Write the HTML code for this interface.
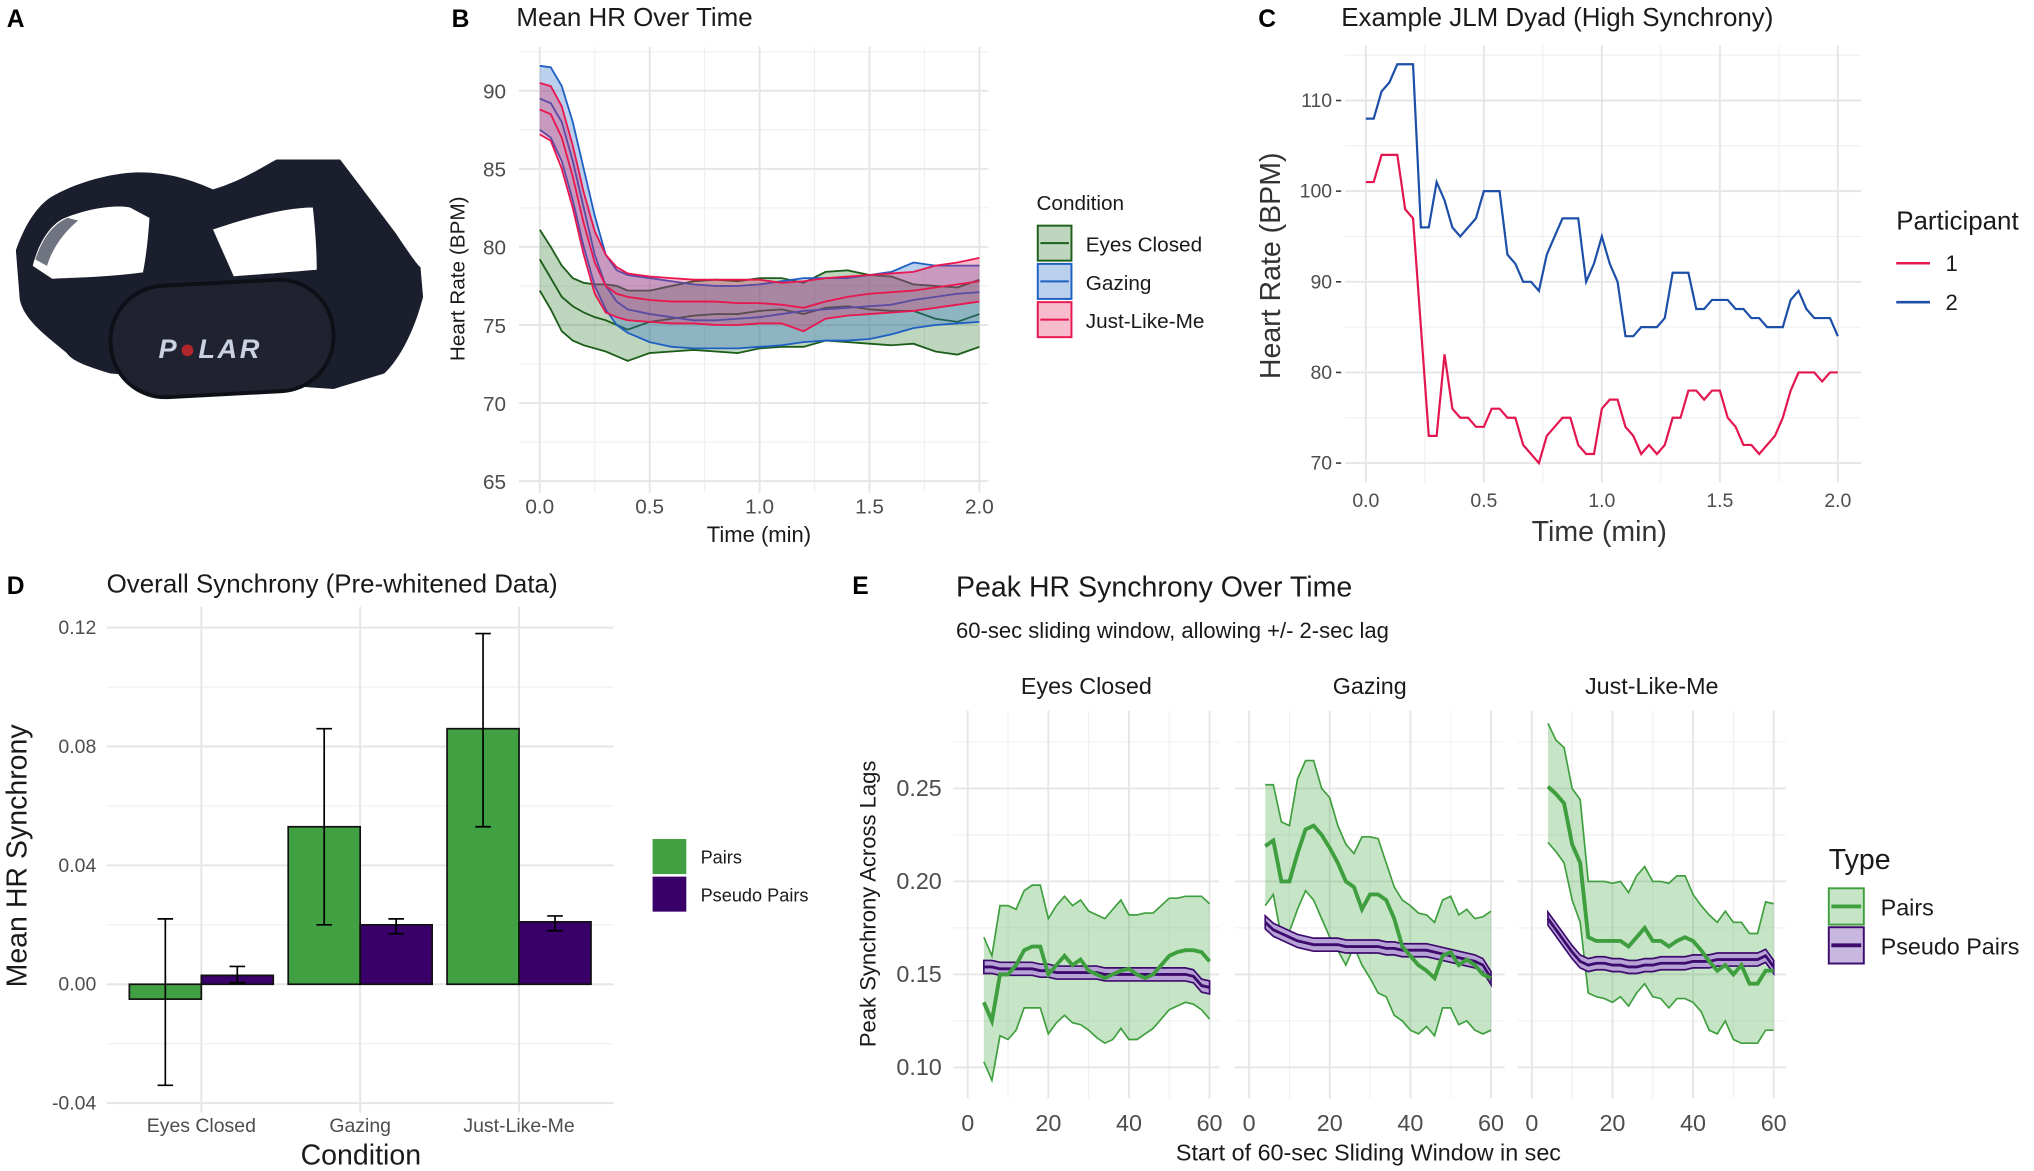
<!DOCTYPE html>
<html><head><meta charset="utf-8">
<style>
html,body{margin:0;padding:0;background:#fff;}
svg{display:block;font-family:"Liberation Sans",Arial,sans-serif;}
</style></head>
<body>
<svg id="fig" width="2034" height="1171" viewBox="0 0 1568 903" xmlns="http://www.w3.org/2000/svg">
  <g>
    <text x="5" y="21" font-size="19" font-weight="bold" fill="#000">A</text>
    <path d="M12,193 C20,170 30,158 39,152 C60,140 85,134 103,133 C130,132 150,140 164,146 C185,140 200,130 213,123 L262,123 C275,140 290,160 305,180 C315,195 322,205 324,206 L326,229 C318,260 305,280 296,288 L257,300 L85,288 C65,282 55,278 51,272 C30,255 18,245 15,231 Z" fill="#1b1e2c"/>
    <path d="M25,205 C30,185 40,172 50,168 C70,160 90,158 100,160 L115,168 C114,185 112,200 110,210 C80,214 55,214 40,215 Z" fill="#fff"/>
    <path d="M27,200 C33,182 42,172 52,168 L60,170 C48,180 40,192 36,205 Z" fill="#6f7480"/>
    <path d="M164,177 C190,168 220,160 241,160 C243,178 244,195 244,208 C220,210 195,212 180,213 Z" fill="#fff"/>
    <rect x="85" y="218" width="172" height="86" rx="42" fill="#20232f" stroke="#0e1018" stroke-width="3" transform="rotate(-3 171 261)"/>
    <text x="122" y="276" font-size="21" font-weight="bold" font-style="italic" fill="#c9d1e3" letter-spacing="2">P<tspan fill="#b1252c">●</tspan>LAR</text>
  </g>
  <g id="chart"></g>
</svg>
<script>
// ---------- Panel B data ----------
const bTime = [0,0.05,0.1,0.15,0.2,0.25,0.3,0.35,0.4,0.5,0.6,0.7,0.8,0.9,1.0,1.1,1.2,1.3,1.4,1.5,1.6,1.7,1.8,1.9,2.0];
const bGazUpper = [91.6,91.5,90.3,88,85,82,79.5,78.5,78.2,78,77.8,77.6,77.5,77.5,77.6,77.8,78,78,78,78.2,78.4,79,78.8,78.8,78.8];
const bGazMean = [89.5,89.2,88,85.5,82.5,79.5,77.5,76.5,76,75.7,75.5,75.3,75.3,75.4,75.5,75.7,75.9,76,76.1,76.2,76.3,76.6,76.8,77,77.1];
const bGazLower = [87.5,87,85.5,83,80,77.5,76,75,74.5,73.9,73.6,73.5,73.5,73.5,73.6,73.7,73.9,74,74,74.1,74.4,74.8,75,75.1,75.2];
const bJlmUpper = [90.5,90.3,89,86.5,83.5,81,79.5,78.7,78.3,78.1,78,77.9,77.9,77.9,77.9,77.7,77.8,78,78.1,78.2,78.3,78.4,78.8,79,79.3];
const bJlmMean = [88.8,88.5,87,84.5,81.5,79,77.5,77,76.8,76.6,76.5,76.5,76.5,76.4,76.4,76.3,76.1,76.5,76.8,77,77.1,77.2,77.4,77.6,77.8];
const bJlmLower = [87.2,86.8,85,82.5,79.5,77,75.8,75.5,75.3,75.2,75.1,75.1,75,75,75.1,75.1,74.6,75.4,75.6,75.7,75.8,75.9,76.1,76.3,76.5];
const bEcUpper = [81.1,80,78.8,78,77.7,77.6,77.6,77.5,77.2,77.2,77.5,77.8,77.9,77.8,78,78,77.7,78.4,78.5,78.2,78.1,77.6,77.5,77.4,77.9];
const bEcMean = [79.2,78,76.8,76.2,75.8,75.5,75.3,75,74.7,75.2,75.4,75.6,75.7,75.7,75.9,76,75.7,76.1,76.2,76,75.9,75.9,75.4,75.2,75.7];
const bEcLower = [77.2,76,74.6,74,73.7,73.5,73.3,73,72.7,73.2,73.3,73.4,73.3,73.2,73.5,73.6,73.6,74,73.9,73.8,73.7,73.8,73.3,73.1,73.6];
const bYTicks = [65,70,75,80,85,90];
const bXTicks = [0,0.5,1.0,1.5,2.0];
const bConditions = ["Eyes Closed","Gazing","Just-Like-Me"];

// ---------- Panel C data (one point every 2 s) ----------
const cP1 = [101,101,104,104,104,98,97,85,73,73,82,76,75,75,74,74,76,76,75,75,72,71,70,73,74,75,75,72,71,71,76,77,77,74,73,71,72,71,72,75,75,78,78,77,78,78,75,74,72,72,71,72,73,75,78,80,80,80,79,80,80];
const cP2 = [108,108,111,112,114,114,114,96,96,101,99,96,95,96,97,100,100,100,93,92,90,90,89,93,95,97,97,97,90,92,95,92,90,84,84,85,85,85,86,91,91,91,87,87,88,88,88,87,87,86,86,85,85,85,88,89,87,86,86,86,84];
const cYTicks = [70,80,90,100,110];
const cXTicks = [0,0.5,1.0,1.5,2.0];

// ---------- Panel D data ----------
const dCategories = ["Eyes Closed","Gazing","Just-Like-Me"];
const dPairs = [-0.005,0.053,0.086];
const dPairsLo = [-0.034,0.020,0.053];
const dPairsHi = [0.022,0.086,0.118];
const dPseudo = [0.003,0.020,0.021];
const dPseudoLo = [0.0005,0.017,0.018];
const dPseudoHi = [0.006,0.022,0.023];
const dYTicks = [-0.04,0.00,0.04,0.08,0.12];
const dYLabels = ["-0.04","0.00","0.04","0.08","0.12"];

// ---------- Panel E data ----------
const eX = [4,6,8,10,12,14,16,18,20,22,24,26,28,30,32,34,36,38,40,42,44,46,48,50,52,54,56,58,60];
const eFacets = ["Eyes Closed","Gazing","Just-Like-Me"];
const eEcMean = [0.135,0.125,0.15,0.15,0.155,0.163,0.165,0.165,0.15,0.155,0.16,0.155,0.158,0.152,0.15,0.148,0.15,0.152,0.153,0.15,0.148,0.15,0.155,0.16,0.162,0.163,0.163,0.162,0.157];
const eEcUpper = [0.17,0.16,0.187,0.187,0.185,0.195,0.198,0.198,0.18,0.187,0.192,0.187,0.19,0.184,0.182,0.18,0.185,0.19,0.182,0.182,0.183,0.183,0.187,0.191,0.191,0.192,0.192,0.192,0.188];
const eEcLower = [0.103,0.093,0.117,0.115,0.12,0.132,0.132,0.132,0.118,0.124,0.128,0.124,0.123,0.12,0.116,0.113,0.115,0.121,0.115,0.115,0.118,0.121,0.126,0.131,0.133,0.135,0.134,0.131,0.126];
const eEcPseudo = [0.154,0.154,0.153,0.153,0.153,0.153,0.153,0.152,0.152,0.151,0.151,0.151,0.151,0.151,0.151,0.150,0.150,0.150,0.150,0.150,0.150,0.150,0.150,0.150,0.150,0.150,0.149,0.144,0.143];
const eGazMean = [0.219,0.222,0.2,0.2,0.215,0.228,0.23,0.225,0.218,0.21,0.2,0.197,0.185,0.193,0.193,0.19,0.18,0.165,0.16,0.155,0.152,0.148,0.16,0.162,0.155,0.158,0.155,0.15,0.148];
const eGazUpper = [0.252,0.252,0.232,0.23,0.255,0.265,0.265,0.25,0.245,0.23,0.22,0.215,0.224,0.224,0.223,0.21,0.197,0.19,0.187,0.183,0.182,0.178,0.19,0.192,0.182,0.185,0.18,0.181,0.184];
const eGazLower = [0.187,0.193,0.17,0.173,0.185,0.195,0.19,0.18,0.17,0.163,0.155,0.165,0.155,0.148,0.14,0.138,0.128,0.125,0.12,0.118,0.122,0.117,0.132,0.132,0.123,0.125,0.12,0.118,0.12];
const eGazPseudo = [0.178,0.174,0.172,0.170,0.168,0.167,0.166,0.166,0.166,0.166,0.165,0.165,0.165,0.165,0.165,0.164,0.164,0.163,0.163,0.163,0.163,0.162,0.161,0.160,0.159,0.158,0.157,0.155,0.148];
const eJlmMean = [0.251,0.247,0.242,0.22,0.21,0.17,0.168,0.168,0.168,0.168,0.165,0.17,0.175,0.168,0.168,0.165,0.168,0.17,0.168,0.163,0.157,0.152,0.155,0.15,0.155,0.145,0.145,0.152,0.152];
const eJlmUpper = [0.285,0.276,0.272,0.25,0.244,0.2,0.2,0.2,0.199,0.2,0.194,0.203,0.208,0.2,0.2,0.199,0.203,0.203,0.193,0.187,0.182,0.178,0.184,0.178,0.178,0.172,0.172,0.189,0.188];
const eJlmLower = [0.221,0.216,0.21,0.19,0.178,0.14,0.138,0.137,0.135,0.138,0.133,0.14,0.145,0.138,0.137,0.132,0.137,0.137,0.135,0.13,0.12,0.118,0.125,0.115,0.113,0.113,0.113,0.12,0.12];
const eJlmPseudo = [0.180,0.174,0.168,0.162,0.157,0.155,0.156,0.156,0.155,0.155,0.154,0.154,0.155,0.155,0.156,0.156,0.156,0.156,0.157,0.157,0.157,0.158,0.158,0.158,0.158,0.158,0.158,0.160,0.154];
const eYTicks = [0.10,0.15,0.20,0.25];
const eXTicks = [0,20,40,60];

const NS = 'http://www.w3.org/2000/svg';
const root = document.getElementById('chart');
function mk(tag, attrs, parent) {
  const e = document.createElementNS(NS, tag);
  for (const k in attrs) e.setAttribute(k, attrs[k]);
  (parent || root).appendChild(e);
  return e;
}
function txt(x, y, s, size, extra, parent) {
  const a = Object.assign({x: x, y: y, 'font-size': size, fill: '#1a1a1a'}, extra || {});
  const e = mk('text', a, parent);
  e.textContent = s;
  return e;
}
function linePath(xs, ys, fx, fy) {
  return xs.map((x, i) => (i ? 'L' : 'M') + fx(x).toFixed(2) + ',' + fy(ys[i]).toFixed(2)).join('');
}
function bandPath(xs, lo, hi, fx, fy) {
  let d = xs.map((x, i) => (i ? 'L' : 'M') + fx(x).toFixed(2) + ',' + fy(hi[i]).toFixed(2)).join('');
  for (let i = xs.length - 1; i >= 0; i--) d += 'L' + fx(xs[i]).toFixed(2) + ',' + fy(lo[i]).toFixed(2);
  return d + 'Z';
}
const GMAJ = '#e6e6e6', GMIN = '#efefef', TICKC = '#4d4d4d';

// ================= Panel B =================
const gB = mk('g', {});


const bx = t => 416 + t * (755 - 416) / 2;
const by = v => 70 + (90 - v) * 60.2 / 5;
for (let v = 67.5; v <= 92.5; v += 5) mk('line', {x1: 400, x2: 762, y1: by(v), y2: by(v), stroke: GMIN, 'stroke-width': 0.8}, gB);
for (let t = 0.25; t < 2; t += 0.5) mk('line', {x1: bx(t), x2: bx(t), y1: 36, y2: 380, stroke: GMIN, 'stroke-width': 0.8}, gB);
bYTicks.forEach(v => {
  mk('line', {x1: 400, x2: 762, y1: by(v), y2: by(v), stroke: GMAJ, 'stroke-width': 1.5}, gB);
  const t = txt(390, by(v) + 6, String(v), 16, {'text-anchor': 'end', fill: TICKC}, gB);
  
  
});
bXTicks.forEach(v => {
  mk('line', {x1: bx(v), x2: bx(v), y1: 36, y2: 380, stroke: GMAJ, 'stroke-width': 1.5}, gB);
  const t = txt(bx(v), 396, v.toFixed(1), 16, {'text-anchor': 'middle', fill: TICKC}, gB);
  
  
});
const bSeries = [
  {lo: bEcLower, mean: bEcMean, hi: bEcUpper, col: '#1d5e1a', fill: 'rgba(40,120,40,0.3)', name: 'eyes-closed'},
  {lo: bGazLower, mean: bGazMean, hi: bGazUpper, col: '#1f5fc4', fill: 'rgba(40,110,200,0.32)', name: 'gazing'},
  {lo: bJlmLower, mean: bJlmMean, hi: bJlmUpper, col: '#e8174f', fill: 'rgba(232,30,90,0.3)', name: 'just-like-me'}
];
bSeries.forEach(s => {
  const band = mk('path', {d: bandPath(bTime, s.lo, s.hi, bx, by), fill: s.fill, stroke: 'none'}, gB);
  
  
  [s.lo, s.mean, s.hi].forEach(arr => {
    const l = mk('path', {d: linePath(bTime, arr, bx, by), fill: 'none', stroke: s.col, 'stroke-width': 1.4}, gB);
    
    
  });
});
let e;
e = txt(348, 21, 'B', 19, {'font-weight': 'bold', fill: '#000'}, gB);


e = txt(398, 20, 'Mean HR Over Time', 20, {}, gB);


e = txt(585, 418, 'Time (min)', 17, {'text-anchor': 'middle'}, gB);


e = txt(0, 0, 'Heart Rate (BPM)', 16, {'text-anchor': 'middle', transform: 'translate(358,215) rotate(-90)'}, gB);


e = txt(799, 162, 'Condition', 16, {}, gB);


bSeries.forEach((s, i) => {
  const y0 = 174 + i * 29.5;
  const g = mk('g', {}, gB);
  
  
  mk('rect', {x: 800, y: y0, width: 26, height: 27, fill: s.fill, stroke: s.col, 'stroke-width': 1.5}, g);
  mk('line', {x1: 802, x2: 824, y1: y0 + 13.5, y2: y0 + 13.5, stroke: s.col, 'stroke-width': 1.5}, g);
  txt(837, y0 + 20, bConditions[i], 16, {}, g);
});

// ================= Panel C =================
const gC = mk('g', {});


const cx = t => 1053 + t * (1417 - 1053) / 2;
const cy = v => 77.5 + (110 - v) * 6.99;
for (let v = 75; v <= 115; v += 10) mk('line', {x1: 1037, x2: 1435, y1: cy(v), y2: cy(v), stroke: GMIN, 'stroke-width': 0.8}, gC);
for (let t = 0.25; t < 2; t += 0.5) mk('line', {x1: cx(t), x2: cx(t), y1: 35, y2: 372, stroke: GMIN, 'stroke-width': 0.8}, gC);
cYTicks.forEach(v => {
  mk('line', {x1: 1037, x2: 1435, y1: cy(v), y2: cy(v), stroke: GMAJ, 'stroke-width': 1.5}, gC);
  mk('line', {x1: 1030, x2: 1034, y1: cy(v), y2: cy(v), stroke: '#333', 'stroke-width': 1.2}, gC);
  const t = txt(1027, cy(v) + 5, String(v), 15, {'text-anchor': 'end', fill: TICKC}, gC);
  
  
});
cXTicks.forEach(v => {
  mk('line', {x1: cx(v), x2: cx(v), y1: 35, y2: 372, stroke: GMAJ, 'stroke-width': 1.5}, gC);
  const t = txt(cx(v), 391, v.toFixed(1), 15, {'text-anchor': 'middle', fill: TICKC}, gC);
  
  
});
const cT = cP1.map((v, i) => i / 30);
e = mk('path', {d: linePath(cT, cP2, cx, cy), fill: 'none', stroke: '#1d4fa8', 'stroke-width': 1.7}, gC);


e = mk('path', {d: linePath(cT, cP1, cx, cy), fill: 'none', stroke: '#e3174f', 'stroke-width': 1.7}, gC);


e = txt(970, 21, 'C', 19, {'font-weight': 'bold', fill: '#000'}, gC);


e = txt(1034, 20, 'Example JLM Dyad (High Synchrony)', 20, {}, gC);


e = txt(1233, 417, 'Time (min)', 22, {'text-anchor': 'middle', fill: '#333'}, gC);


e = txt(0, 0, 'Heart Rate (BPM)', 22, {'text-anchor': 'middle', fill: '#333', transform: 'translate(987,205) rotate(-90)'}, gC);


e = txt(1462, 177, 'Participant', 20, {}, gC);


[['1', '#e3174f'], ['2', '#1d4fa8']].forEach((p, i) => {
  const y0 = 203 + i * 30;
  const g = mk('g', {}, gC);
  
  
  mk('line', {x1: 1462, x2: 1488, y1: y0, y2: y0, stroke: p[1], 'stroke-width': 2}, g);
  txt(1500, y0 + 6, p[0], 17, {}, g);
});

// ================= Panel D =================
const gD = mk('g', {});


const dy = v => 759 - v * 2291.7;
const dcx = i => 155 + i * 122.5;
const BW = 55.5;
for (let v = -0.02; v <= 0.11; v += 0.04) mk('line', {x1: 82, x2: 473, y1: dy(v), y2: dy(v), stroke: GMIN, 'stroke-width': 0.8}, gD);
dYTicks.forEach((v, i) => {
  mk('line', {x1: 82, x2: 473, y1: dy(v), y2: dy(v), stroke: GMAJ, 'stroke-width': 1.5}, gD);
  const t = txt(74, dy(v) + 5, dYLabels[i], 15, {'text-anchor': 'end', fill: TICKC}, gD);
  
  
});
dCategories.forEach((c, i) => {
  mk('line', {x1: dcx(i), x2: dcx(i), y1: 468, y2: 858, stroke: GMAJ, 'stroke-width': 1.5}, gD);
  const t = txt(dcx(i), 873, c, 15, {'text-anchor': 'middle', fill: TICKC}, gD);
  
  
});
function dBar(i, val, lo, hi, off, col, nm) {
  const x = dcx(i) + off;
  const r = mk('rect', {x: x, y: Math.min(dy(val), dy(0)), width: BW, height: Math.abs(dy(val) - dy(0)), fill: col, stroke: '#111', 'stroke-width': 1.3}, gD);
  
  
  const c = x + BW / 2;
  const eb = mk('path', {d: 'M' + (c - 6) + ',' + dy(hi) + 'H' + (c + 6) + 'M' + c + ',' + dy(hi) + 'V' + dy(lo) + 'M' + (c - 6) + ',' + dy(lo) + 'H' + (c + 6), stroke: '#000', 'stroke-width': 1.3, fill: 'none'}, gD);
  
  
}
dCategories.forEach((c, i) => {
  dBar(i, dPairs[i], dPairsLo[i], dPairsHi[i], -BW, '#41a041', 'pairs');
  dBar(i, dPseudo[i], dPseudoLo[i], dPseudoHi[i], 0, '#380068', 'pseudo-pairs');
});
e = txt(5, 458, 'D', 19, {'font-weight': 'bold', fill: '#000'}, gD);


e = txt(82, 457, 'Overall Synchrony (Pre-whitened Data)', 20, {}, gD);


e = txt(278, 898, 'Condition', 22, {'text-anchor': 'middle'}, gD);


e = txt(0, 0, 'Mean HR Synchrony', 22, {'text-anchor': 'middle', transform: 'translate(20,660) rotate(-90)'}, gD);


[['Pairs', '#41a041'], ['Pseudo Pairs', '#380068']].forEach((p, i) => {
  const y0 = 647 + i * 29;
  const g = mk('g', {}, gD);
  
  
  mk('rect', {x: 503, y: y0, width: 26, height: 27, fill: p[1]}, g);
  txt(540, y0 + 19, p[0], 14, {}, g);
});

// ================= Panel E =================
const gE = mk('g', {});


const ey = v => 608 + (0.25 - v) * 1434;
const eX0 = [746, 963, 1181];
const eXR = [[735, 940], [952, 1160], [1170, 1377]];
const eData = [
  [eEcLower, eEcMean, eEcUpper, eEcPseudo],
  [eGazLower, eGazMean, eGazUpper, eGazPseudo],
  [eJlmLower, eJlmMean, eJlmUpper, eJlmPseudo]
];
eFacets.forEach((f, k) => {
  const fx = x => eX0[k] + x * 186.5 / 60;
  const g = mk('g', {}, gE);
  
  
  for (let v = 0.125; v < 0.28; v += 0.05) mk('line', {x1: eXR[k][0], x2: eXR[k][1], y1: ey(v), y2: ey(v), stroke: GMIN, 'stroke-width': 0.8}, g);
  [10, 30, 50].forEach(x => mk('line', {x1: fx(x), x2: fx(x), y1: 548, y2: 847, stroke: GMIN, 'stroke-width': 0.8}, g));
  eYTicks.forEach(v => mk('line', {x1: eXR[k][0], x2: eXR[k][1], y1: ey(v), y2: ey(v), stroke: GMAJ, 'stroke-width': 1.5}, g));
  eXTicks.forEach(x => {
    mk('line', {x1: fx(x), x2: fx(x), y1: 548, y2: 847, stroke: GMAJ, 'stroke-width': 1.5}, g);
    const t = txt(fx(x), 872, String(x), 18, {'text-anchor': 'middle', fill: TICKC}, g);
    
    
  });
  const st = txt((eXR[k][0] + eXR[k][1]) / 2, 535, f, 18, {'text-anchor': 'middle'}, g);
  
  
  const [lo, mean, hi, ps] = eData[k];
  const band = mk('path', {d: bandPath(eX, lo, hi, fx, ey), fill: 'rgba(65,170,65,0.3)', stroke: 'none'}, g);
  
  
  [lo, hi].forEach(arr => {
    const l = mk('path', {d: linePath(eX, arr, fx, ey), fill: 'none', stroke: '#3f9f3f', 'stroke-width': 1.3}, g);
    
    
  });
  const pHi = ps.map(v => v + 0.0035), pLo = ps.map(v => v - 0.0035);
  const pb = mk('path', {d: bandPath(eX, pLo, pHi, fx, ey), fill: '#b7a3d6', stroke: '#3d0b6e', 'stroke-width': 1.3}, g);
  
  
  const pl = mk('path', {d: linePath(eX, ps, fx, ey), fill: 'none', stroke: '#3d0b6e', 'stroke-width': 2.2}, g);
  
  
  const ml = mk('path', {d: linePath(eX, mean, fx, ey), fill: 'none', stroke: '#3f9f3f', 'stroke-width': 3}, g);
  
  
});
eYTicks.forEach(v => {
  const t = txt(726, ey(v) + 6, v.toFixed(2), 18, {'text-anchor': 'end', fill: TICKC}, gE);
  
  
});
e = txt(657, 458, 'E', 19, {'font-weight': 'bold', fill: '#000'}, gE);


e = txt(737, 460, 'Peak HR Synchrony Over Time', 22, {}, gE);


e = txt(737, 492, '60-sec sliding window, allowing +/- 2-sec lag', 17, {}, gE);


e = txt(1055, 895, 'Start of 60-sec Sliding Window in sec', 18, {'text-anchor': 'middle'}, gE);


e = txt(0, 0, 'Peak Synchrony Across Lags', 17, {'text-anchor': 'middle', transform: 'translate(675,697) rotate(-90)'}, gE);


e = txt(1410, 670, 'Type', 22, {}, gE);


[['Pairs', 'rgba(65,170,65,0.3)', '#3f9f3f'], ['Pseudo Pairs', '#c8b8e0', '#3d0b6e']].forEach((p, i) => {
  const y0 = 685 + i * 30;
  const g = mk('g', {}, gE);
  
  
  mk('rect', {x: 1410, y: y0, width: 27, height: 28, fill: p[1], stroke: p[2], 'stroke-width': 1.5}, g);
  mk('line', {x1: 1412, x2: 1435, y1: y0 + 14, y2: y0 + 14, stroke: p[2], 'stroke-width': 3}, g);
  txt(1450, y0 + 21, p[0], 18, {}, g);
});
</script>
</body></html>
